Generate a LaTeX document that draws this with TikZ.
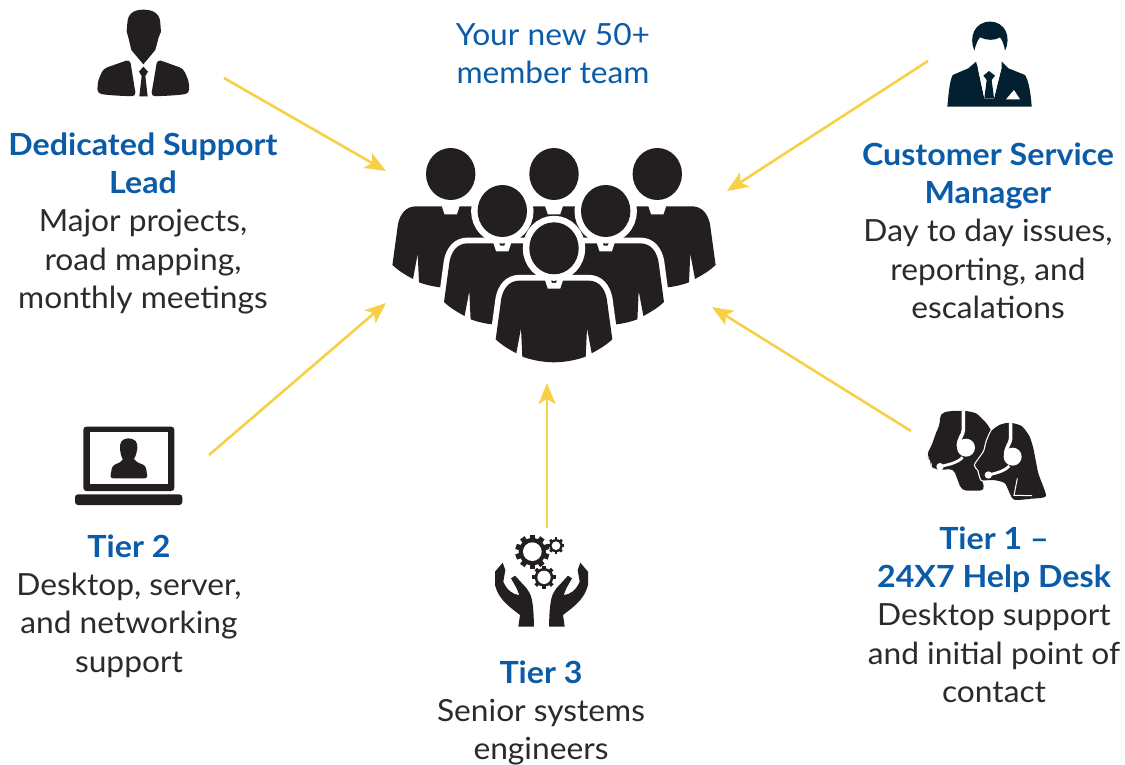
\documentclass[tikz,border=0pt]{standalone}
\usepackage{fontspec}
\setmainfont{Lato}[FakeStretch=1.04,BoldFeatures={FakeStretch=1.055}]
\usetikzlibrary{arrows.meta}
\definecolor{ink}{HTML}{231F20}
\definecolor{navy}{HTML}{02202F}
\definecolor{hdr}{HTML}{0B5CA8}
\definecolor{gold}{HTML}{F7D046}
\newcommand\bodypath{(-9,32.3) -- (-6.3,40.3) -- (6.3,40.3) -- (9,32.3) -- (34.3,32.3) .. controls (45,32.3) and (50.5,40) .. (52.7,50) -- (58.3,91) .. controls (52,97) and (45,101) .. (37.7,105) -- (33,80) -- (31.7,108.3) .. controls (22,112) and (10,114) .. (0,114) .. controls (-10,114) and (-22,112) .. (-31.7,108.3) -- (-33,80) -- (-37.7,105) .. controls (-45,101) and (-52,97) .. (-58.3,91) -- (-52.7,50) .. controls (-50.5,40) and (-45,32.3) .. (-34.3,32.3) -- cycle}
\newcommand\teamperson[3]{\begin{scope}[shift={(#1,#2)}]
 \ifnum#3=1
 \draw[white,line width=11.5pt,line join=round] \bodypath;
 \draw[white,line width=13pt] (0,0) ellipse (24.7 and 26);
 \fi
 \fill[ink] \bodypath;
 \fill[ink] (0,0) ellipse (24.7 and 26);
\end{scope}}
\newcommand\gearicon[5]{\begin{scope}[shift={(#1,#2)}]
 \fill[ink] (0,0) circle (#3);
 \foreach \i in {1,...,#5} {\pgfmathsetmacro\ang{\i*360/#5}
  \fill[ink,rotate=\ang] (-#3*0.2,0) rectangle (#3*0.2,#3*1.25);}
 \fill[white] (0,0) circle (#4);
\end{scope}}
\newcommand\womanpath{plot[smooth cycle,tension=0.35] coordinates {(230,125) (245,92) (270,74) (300,68) (335,78) (358,108) (370,145) (385,220) (408,288) (365,296) (310,298) (285,250) (250,240) (215,240) (205,210) (195,195) (222,155)}}
\tikzset{
 txt/.style={anchor=north,align=center,inner sep=0pt,text=ink!95!white,font=\fontsize{30.5}{38.4}\selectfont},
 conn/.style={draw=gold,line width=2.6pt,-{Stealth[length=21pt,width=17pt,inset=5pt]}},
 zoomed/.style={scale=0.33333}
}
\newcommand\hd[1]{\textcolor{hdr}{\bfseries #1}}
\begin{document}
\begin{tikzpicture}[x=1pt,y=-1pt]
\useasboundingbox (0,0) rectangle (1125,765);
\fill[white] (0,0) rectangle (1125,765);
% arrows
\coordinate (a1s) at (224,78); \coordinate (a1e) at (386,171);
\coordinate (a2s) at (928,61); \coordinate (a2e) at (727,191);
\coordinate (a3s) at (209,455); \coordinate (a3e) at (386,303);
\coordinate (a4s) at (547,528); \coordinate (a4e) at (547,383);
\coordinate (a5s) at (911,431); \coordinate (a5e) at (712,307);
\draw[conn] (a1s) -- (a1e);
\draw[conn] (a2s) -- (a2e);
\draw[conn] (a3s) -- (a3e);
\draw[conn] (a4s) -- (a4e);
\draw[conn] (a5s) -- (a5e);
% team
\teamperson{450.7}{174}{0}\teamperson{554}{174}{0}\teamperson{657.3}{174}{0}
\teamperson{502.3}{211}{1}\teamperson{605.7}{211}{1}
\teamperson{554}{248.3}{1}
% dedicated lead
\begin{scope}[shift={(80,0)},zoomed]
 \fill[ink] (142,70) .. controls (143,42) and (160,29) .. (190,29) .. controls (222,29) and (240,42) .. (241,70) -- (243,95) -- (236,112) -- (226,150) -- (190,193) -- (154,150) -- (145,112) -- (140,95) -- cycle;
 \fill[ink,rounded corners=4pt] (150,178) -- (70,206) -- (53,245) -- (52,280) .. controls (85,286) and (130,288) .. (168,289) -- cycle;
 \fill[ink,rounded corners=4pt] (232,178) -- (310,206) -- (327,245) -- (328,280) .. controls (295,286) and (250,288) .. (213,289) -- cycle;
 \fill[ink] (190,200) -- (177,215) -- (185,228) -- (178,289) -- (203,289) -- (196,228) -- (204,215) -- cycle;
\end{scope}
% manager
\begin{scope}[shift={(930,10)},zoomed]
 \fill[navy] (133,122) .. controls (115,80) and (135,35) .. (180,35) .. controls (225,35) and (245,80) .. (225,122) .. controls (222,105) and (218,92) .. (210,82) .. controls (195,92) and (170,92) .. (150,82) .. controls (145,88) and (138,100) .. (133,122) -- cycle;
 \fill[navy] (138,155) -- (143,172) -- (163,265) -- (192,265) -- (215,172) -- (215,155) -- (235,175) -- (285,195) .. controls (298,215) and (303,260) .. (305,290) -- (52,290) .. controls (55,260) and (58,215) .. (68,195) -- (115,175) -- cycle;
 \fill[white] (143,172) -- (163,265) -- (192,265) -- (215,172) -- cycle;
 \fill[navy] (177,183) -- (160,197) -- (170,210) -- (163,265) -- (192,265) -- (185,210) -- (195,197) -- cycle;
 \fill[white] (228,268) -- (252,240) -- (270,268) -- cycle;
\end{scope}
% laptop
\begin{scope}[shift={(65,415)},zoomed]
 \fill[ink,rounded corners=3pt] (55,35) rectangle (328,228);
 \fill[white] (75,52) rectangle (310,208);
 \fill[ink,rounded corners=3pt] (30,238) rectangle (352,270);
 \fill[ink] plot[smooth cycle,tension=0.6] coordinates {(190,70) (212,78) (217,100) (208,130) (190,148) (172,130) (165,100) (170,78)};
 \fill[ink,rounded corners=3pt] (175,130) -- (170,140) -- (142,152) -- (135,190) -- (248,190) -- (242,152) -- (212,140) -- (207,130) -- cycle;
\end{scope}
% gears and hands
\begin{scope}[shift={(480,525)},zoomed]
 \gearicon{157}{80}{41}{28}{10}
 \gearicon{228}{62}{20}{13}{8}
 \gearicon{192}{157}{28}{20}{8}
 \fill[ink] (115,305) -- (120,270) .. controls (95,250) and (55,225) .. (45,180) -- (45,140) -- (68,113) -- (76,135) -- (70,170) .. controls (80,195) and (100,210) .. (118,210) -- (110,190) -- (93,160) -- (105,152) -- (140,190) .. controls (155,210) and (160,225) .. (162,305) -- cycle;
 \fill[ink] (254,305) -- (249,270) .. controls (274,250) and (314,225) .. (324,180) -- (324,140) -- (301,113) -- (293,135) -- (299,170) .. controls (289,195) and (269,210) .. (251,210) -- (259,190) -- (276,160) -- (264,152) -- (229,190) .. controls (214,210) and (209,225) .. (207,305) -- cycle;
\end{scope}
% headsets
\begin{scope}[shift={(910,400)},zoomed]
 \fill[ink,rounded corners=5pt] (90,40) .. controls (130,30) and (190,30) .. (215,55) .. controls (235,75) and (245,95) .. (245,110) -- (205,200) -- (225,272) -- (155,272) -- (130,205) -- (100,210) -- (72,208) -- (62,195) -- (65,180) -- (48,168) -- (68,130) -- (75,105) -- (90,72) -- cycle;
 \draw[white,line width=3.6pt] (160,33) -- (160,90) .. controls (160,105) and (145,115) .. (145,140);
 \fill[white] (168,143) circle (27);
 \draw[white,line width=2.8pt] (158,172) .. controls (140,190) and (120,192) .. (90,200);
 \fill[white] (90,200) circle (11);
 \draw[white,line width=2.4pt] \womanpath;
 \fill[ink] \womanpath;
 \draw[white,line width=1pt] (322,235) -- (312,286) -- (366,287);
 \draw[white,line width=3.6pt] (302,63) -- (302,115) .. controls (302,130) and (287,140) .. (287,165);
 \fill[white] (308,170) circle (27);
 \draw[white,line width=2.8pt] (298,198) .. controls (285,212) and (265,218) .. (235,225);
 \fill[white] (235,225) circle (11);
\end{scope}
% text
\node[txt] (title) at (553,23) {\textcolor{hdr}{Your new 50+}\\\textcolor{hdr}{member team}};
\node[txt] (lead) at (143,128) {\strut\hd{Dedicated Support}\\\hd{Lead}\\Major projects,\\road mapping,\\monthly meetings};
\node[txt] (csm) at (988,138) {\strut\hd{Customer Service}\\\hd{Manager}\\Day to day issues,\\reporting, and\\escalations};
\node[txt] (t2) at (129,530) {\strut\hd{Tier 2}\\Desktop, server,\\and networking\\support};
\node[txt] (t3) at (541,656) {\strut\hd{Tier 3}\\Senior systems\\engineers};
\node[txt] (t1) at (994,522) {\strut\hd{Tier 1 –}\\\hd{24X7 Help Desk}\\Desktop support\\and initial point of\\contact};
\end{tikzpicture}
\end{document}
